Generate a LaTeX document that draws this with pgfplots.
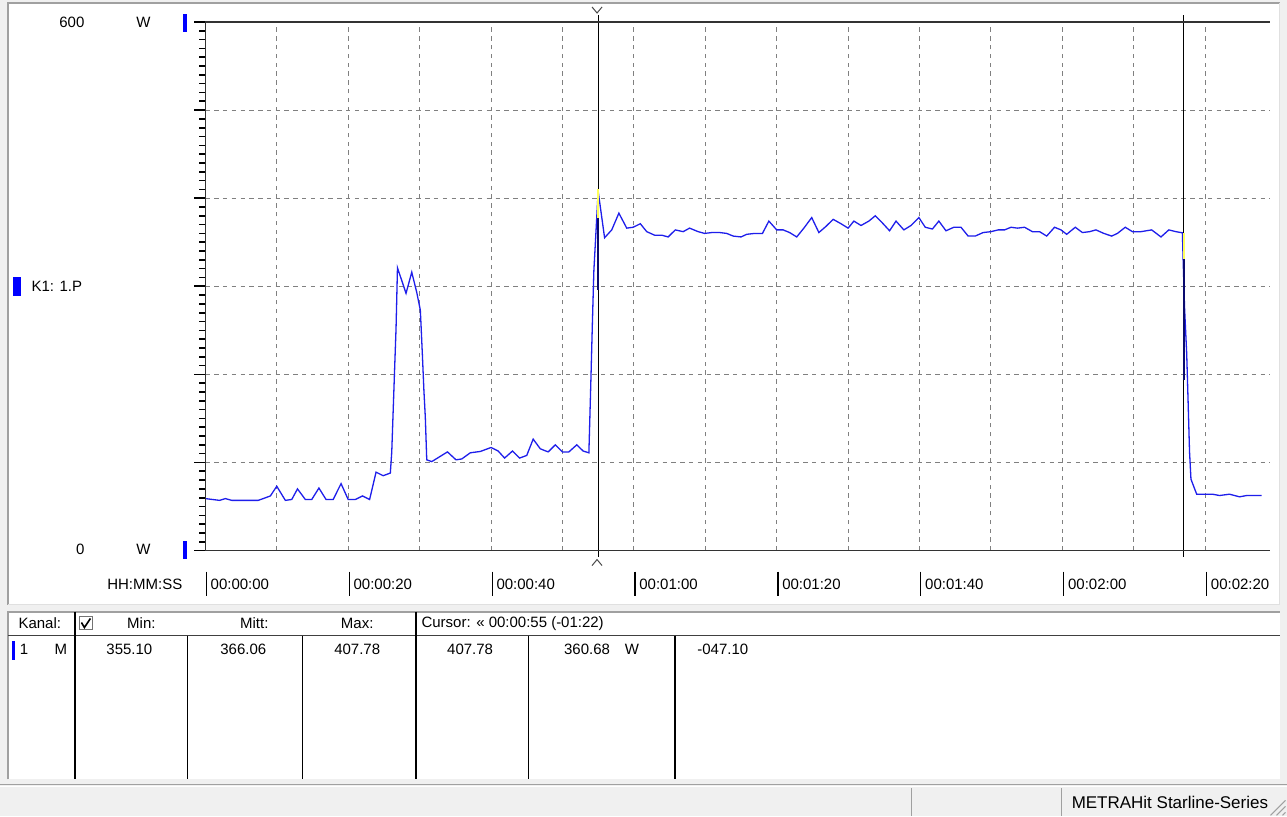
\documentclass[border=0pt]{standalone}
\usepackage{pgfplots}
\pgfplotsset{compat=1.18}
\usepackage{fontspec}
\setmainfont{Liberation Sans}

\definecolor{winbg}{RGB}{240,240,240}
\definecolor{plotblue}{RGB}{30,30,235}
\definecolor{gridgray}{RGB}{128,128,128}
\definecolor{bordergray}{RGB}{160,160,160}
\definecolor{curyellow}{RGB}{255,255,90}
\definecolor{navy}{RGB}{10,10,110}

% power over time, seconds / W
\pgfplotstableread{
t P
0 59
1 58
2 57
2.8 59
3.7 57
4.7 57
5.7 57
6.6 57
7.4 57
8.1 59
9.1 62
10.0 73
11.2 57
12.1 58
12.9 70
14.0 58
14.9 58
15.9 71
16.9 58
17.9 58
19.0 76
20.0 58
21.0 58
22.0 62
23.0 58
23.9 89
24.9 85
25.9 88
26.1 112
26.3 159
26.5 206
26.7 252
26.9 321
28.1 292
28.9 316
29.6 293
30.1 273
30.2 256
30.4 220
30.6 182
30.8 151
31.0 103
31.7 101
32.9 107
33.9 112
35.1 103
35.9 104
37.1 111
38.5 112.5
40.0 117
41.0 113
41.9 105
43.0 113
44.0 105
45.0 108
45.9 126.5
46.9 115.5
48.0 112
49.0 120
50.0 112
50.9 112
52.0 120
52.9 113
53.7 111
53.8 140
54.0 199
54.2 261
54.4 318
55.0 407.78
55.9 355.1
56.9 364
57.9 383
59.0 366
59.9 367
60.9 371
61.8 362
62.9 358
63.9 358
64.8 356
65.8 364
66.9 362
67.8 366
69.0 362
69.9 360
70.9 361
72.0 361
73.0 360
73.9 357
75.0 356
75.8 359
76.9 360
78.0 360
78.9 374
80.0 364
80.9 364
81.8 361
82.8 356
83.8 366
84.9 378
85.9 361
86.9 368
87.9 376
89.0 371
90.0 366
90.8 374
91.8 369
92.9 374
93.8 380
94.9 371
95.8 363
96.7 374
97.8 364
98.8 369
99.9 378
100.8 367
101.8 365
102.7 374
103.7 363
104.8 367
105.8 367
106.8 357
107.8 357
108.9 361
110.0 362
111.0 364
111.9 364
112.8 367
113.7 366
114.7 367
115.8 362
116.8 362
117.8 357
118.9 367
119.8 364
120.6 359
121.8 367
122.8 361
123.8 362
124.7 364
125.8 360
126.9 357
127.7 360
128.8 367
129.8 362
131.0 362
132.5 364
133.8 356
134.9 364
135.9 362
136.8 360.68
136.9 331
137.1 276
137.4 224
137.6 169
137.8 112
138.0 81
138.8 64
141.0 64
142.0 62.5
143.4 64
144.8 61
145.8 62.5
147.9 62.5
}\powerdata

\begin{document}
\begin{tikzpicture}[font=\fontsize{7.5}{9}\selectfont]
% window drawn in screen pixels, y downwards
\begin{scope}[x=0.5pt,y=-0.5pt]
  \fill[winbg] (0,0) rectangle (1287,817);
  % chart panel
  \fill[white] (8,3) rectangle (1280,605);
  \draw[bordergray, line width=1pt] (8,605) -- (8,3) -- (1280,3);
  \draw[black!12, line width=0.5pt] (1280,3) -- (1280,605) -- (8,605);
  % left labels
  \node[anchor=east] at (91,22) {600};
  \node at (143,22) {W};
  \fill[blue] (183,14) rectangle (187,32);
  \node[anchor=east] at (91,550) {0};
  \node at (143,550) {W};
  \fill[blue] (183,541) rectangle (187,559);
  \fill[blue] (13,277) rectangle (21,296);
  \node[anchor=west] at (24,287) {K1: 1.P};
  \node[anchor=east] at (189,585) {HH:MM:SS};
  \foreach \i/\lab in {0/00:00:00,1/00:00:20,2/00:00:40,3/00:01:00,4/00:01:20,5/00:01:40,6/00:02:00,7/00:02:20}{
    \draw[black, line width=0.6pt] (206+143*\i,572) -- ++(0,24);
    \node[anchor=west, inner sep=1pt] at (208+143*\i,585) {\lab};
  }
  % cursor markers
  \draw[black!70, line width=0.5pt] (592,7) -- (597,13) -- (602,7);
  \draw[black!70, line width=0.5pt] (592,566) -- (597,560) -- (602,566);
  % table
  \fill[white] (8,612) rectangle (1280,780);
  \draw[bordergray, line width=1pt] (8,780) -- (8,612) -- (1280,612);
  \draw[black!75, line width=0.6pt] (8,636) -- (1280,636);
  \draw[black, line width=1pt] (75,612) -- (75,780) (416,612) -- (416,780) (675,636) -- (675,780);
  \draw[black, line width=0.5pt] (187,636) -- (187,780) (302,636) -- (302,780) (528,636) -- (528,780);
  \node[anchor=west] at (11,624) {Kanal:};
  \draw[black!55, line width=0.5pt] (79,617) rectangle (92,630);
  \draw[black, line width=0.8pt] (81,623) -- (84,628) -- (90,619);
  \node at (141,624) {Min:};
  \node at (254,624) {Mitt:};
  \node at (357,624) {Max:};
  \node[anchor=west, inner sep=1pt] at (419,624) {Cursor: « 00:00:55 (-01:22)};
  \fill[blue] (12,641) rectangle (15,661);
  \node[anchor=west, inner sep=1pt] at (17,650) {1};
  \node[anchor=east, inner sep=1pt] at (69,650) {M};
  \node at (129,650) {355.10};
  \node at (243,650) {366.06};
  \node at (357,650) {407.78};
  \node at (470,650) {407.78};
  \node at (587,650) {360.68};
  \node at (632,650) {W};
  \node[anchor=west, inner sep=1pt] at (695,650) {-047.10};
  % status bar
  \draw[bordergray, line width=0.5pt] (0,785) -- (1287,785);
  \draw[white, line width=0.5pt] (0,787) -- (1287,787);
  \draw[bordergray, line width=0.5pt] (912,789) -- (912,817) (1062,789) -- (1062,817);
  \node[anchor=west, font=\fontsize{8.5}{10}\selectfont] at (1065,803) {METRAHit Starline-Series};
  \draw[bordergray, line width=0.5pt] (1271,816) -- (1286,801) (1277,816) -- (1286,807) (1283,816) -- (1286,813);
\end{scope}

\begin{axis}[
  at={(102.5pt,-275.5pt)}, anchor=south west,
  scale only axis, width=532.5pt, height=264.5pt,
  xmin=0, xmax=149, ymin=0, ymax=600,
  axis line style={draw=none},
  xtick={0,10,...,140}, xticklabels={},
  ytick={0,100,...,600}, yticklabels={},
  minor y tick num=9,
  ytick pos=left, tick align=outside,
  major tick length=5.5pt, minor tick length=3pt,
  xtick style={draw=none},
  ytick style={black, line width=0.8pt},
  minor tick style={black, line width=0.8pt},
  grid=major,
  major grid style={gridgray, line width=0.5pt, dash pattern=on 2.2pt off 2.2pt},
  clip=false,
]
\addplot[plotblue, line width=0.65pt] table[x=t, y=P] {\powerdata};
% cursors
\draw[black, line width=0.6pt] (axis cs:55,-7) -- (axis cs:55,608);
\draw[black, line width=0.6pt] (axis cs:137,-7) -- (axis cs:137,608);
\draw[navy, line width=1pt] (axis cs:55,296) -- (axis cs:55,377);
\draw[curyellow, line width=1pt] (axis cs:55,377) -- (axis cs:55,410);
\draw[navy, line width=1pt] (axis cs:137,194) -- (axis cs:137,331);
\draw[curyellow, line width=1pt] (axis cs:137,331) -- (axis cs:137,360);
% frame
\draw[black!80, line width=0.75pt] (rel axis cs:1,1) -- (rel axis cs:0,1) -- (rel axis cs:0,0) -- (rel axis cs:1,0);
\end{axis}
\end{tikzpicture}
\end{document}
